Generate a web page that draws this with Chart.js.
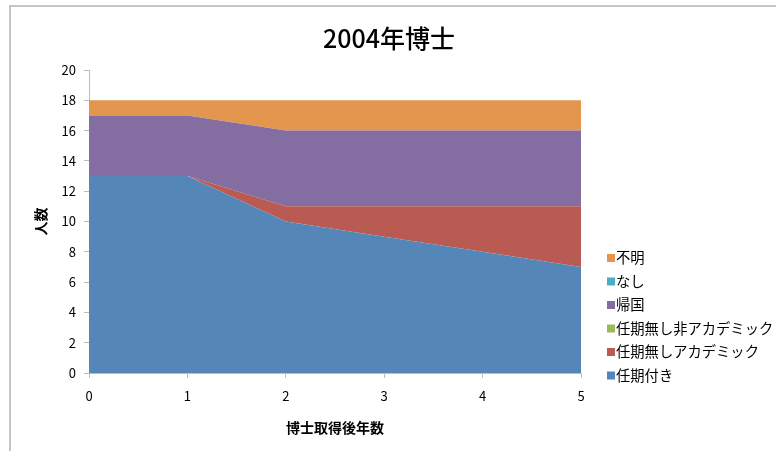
<!DOCTYPE html>
<html>
<head>
<meta charset="utf-8">
<script src="https://cdn.jsdelivr.net/npm/chart.js@4"></script>
<style>
  html, body { margin: 0; padding: 0; background: #ffffff; }
  canvas { display: block; }
</style>
</head>
<body>
<canvas id="c" width="776" height="451"></canvas>
<script>
const chartTitle = '2004年博士';
const xTitle = '博士取得後年数';
const yTitle = '人数';
const years = [0, 1, 2, 3, 4, 5];
const seriesNames = ['任期付き', '任期無しアカデミック', '任期無し非アカデミック', '帰国', 'なし', '不明'];
const ninkitsuki = [13, 13, 10, 9, 8, 7];
const mukiAcademic = [0, 0, 1, 2, 3, 4];
const mukiNonAcademic = [0, 0, 0, 0, 0, 0];
const kikoku = [4, 4, 5, 5, 5, 5];
const nashi = [0, 0, 0, 0, 0, 0];
const fumei = [1, 1, 2, 2, 2, 2];
const seriesColors = ['#5586B8', '#B95B52', '#9BBB59', '#846DA0', '#4BACC6', '#E4964F'];
const yTicks = [0, 2, 4, 6, 8, 10, 12, 14, 16, 18, 20];

const FONT = "'Noto Sans CJK JP', 'Noto Sans', sans-serif";
const allValues = [ninkitsuki, mukiAcademic, mukiNonAcademic, kikoku, nashi, fumei];

const datasets = allValues.map((vals, i) => ({
  label: seriesNames[i],
  data: years.map((x, j) => ({ x: x, y: vals[j] })),
  backgroundColor: seriesColors[i],
  borderColor: seriesColors[i],
  borderWidth: 0,
  pointRadius: 0,
  pointHoverRadius: 0,
  tension: 0,
  fill: i === 0 ? 'origin' : '-1'
}));

const framePlugin = {
  id: 'frame',
  beforeDraw(chart) {
    const ctx = chart.ctx;
    ctx.save();
    ctx.fillStyle = '#c6c6c6';
    ctx.fillRect(10, 5, chart.width - 10, 2);
    ctx.fillRect(9, 5, 2, chart.height - 5);
    ctx.restore();
  }
};

const titlePlugin = {
  id: 'customTitle',
  afterDraw(chart) {
    const ctx = chart.ctx;
    ctx.save();
    ctx.fillStyle = '#000000';
    ctx.font = "500 25px " + FONT;
    ctx.textAlign = 'center';
    ctx.textBaseline = 'middle';
    ctx.fillText(chartTitle, 389, 38);
    ctx.restore();
  }
};

const legendPlugin = {
  id: 'customLegend',
  afterDraw(chart) {
    const ctx = chart.ctx;
    const ds = chart.data.datasets;
    ctx.save();
    ctx.font = "14.3px " + FONT;
    ctx.textBaseline = 'middle';
    ctx.textAlign = 'left';
    const n = ds.length;
    for (let k = 0; k < n; k++) {
      const d = ds[n - 1 - k];
      const cy = 258 + k * 23.5;
      ctx.fillStyle = d.backgroundColor;
      ctx.fillRect(607, cy - 4, 8, 8);
      ctx.fillStyle = '#000000';
      ctx.fillText(d.label, 616, cy);
    }
    ctx.restore();
  }
};

new Chart(document.getElementById('c'), {
  type: 'line',
  data: { datasets: datasets },
  plugins: [framePlugin, titlePlugin, legendPlugin],
  options: {
    responsive: false,
    animation: false,
    layout: { padding: { left: 10, top: 70, right: 195, bottom: 10 } },
    plugins: {
      legend: { display: false },
      title: { display: false },
      tooltip: { enabled: false },
      filler: { propagate: false }
    },
    elements: { line: { borderWidth: 0 } },
    scales: {
      x: {
        type: 'linear',
        min: 0,
        max: 5,
        afterFit(scale) { scale.height = 68; },
        afterBuildTicks(scale) { scale.ticks = years.map(v => ({ value: v })); },
        ticks: { color: '#000000', font: { family: FONT, size: 13 }, padding: 10, maxRotation: 0 },
        grid: { display: true, drawOnChartArea: false, tickLength: 5, color: '#bdbdbd' },
        border: { display: true, color: '#bdbdbd', width: 1 },
        title: { display: true, text: xTitle, color: '#000000', font: { family: FONT, size: 14, weight: 'bold' }, padding: { top: 0, bottom: 5 } }
      },
      y: {
        type: 'linear',
        stacked: true,
        min: 0,
        max: 20,
        afterFit(scale) { scale.width = 79; },
        afterBuildTicks(scale) { scale.ticks = yTicks.map(v => ({ value: v })); },
        ticks: { color: '#000000', font: { family: FONT, size: 13 }, padding: 8 },
        grid: { display: true, drawOnChartArea: false, tickLength: 5, color: '#bdbdbd' },
        border: { display: true, color: '#bdbdbd', width: 1 },
        title: { display: true, text: yTitle, color: '#000000', font: { family: FONT, size: 14, weight: 'bold' }, padding: { top: 22, bottom: 0 } }
      }
    }
  }
});
</script>
</body>
</html>
